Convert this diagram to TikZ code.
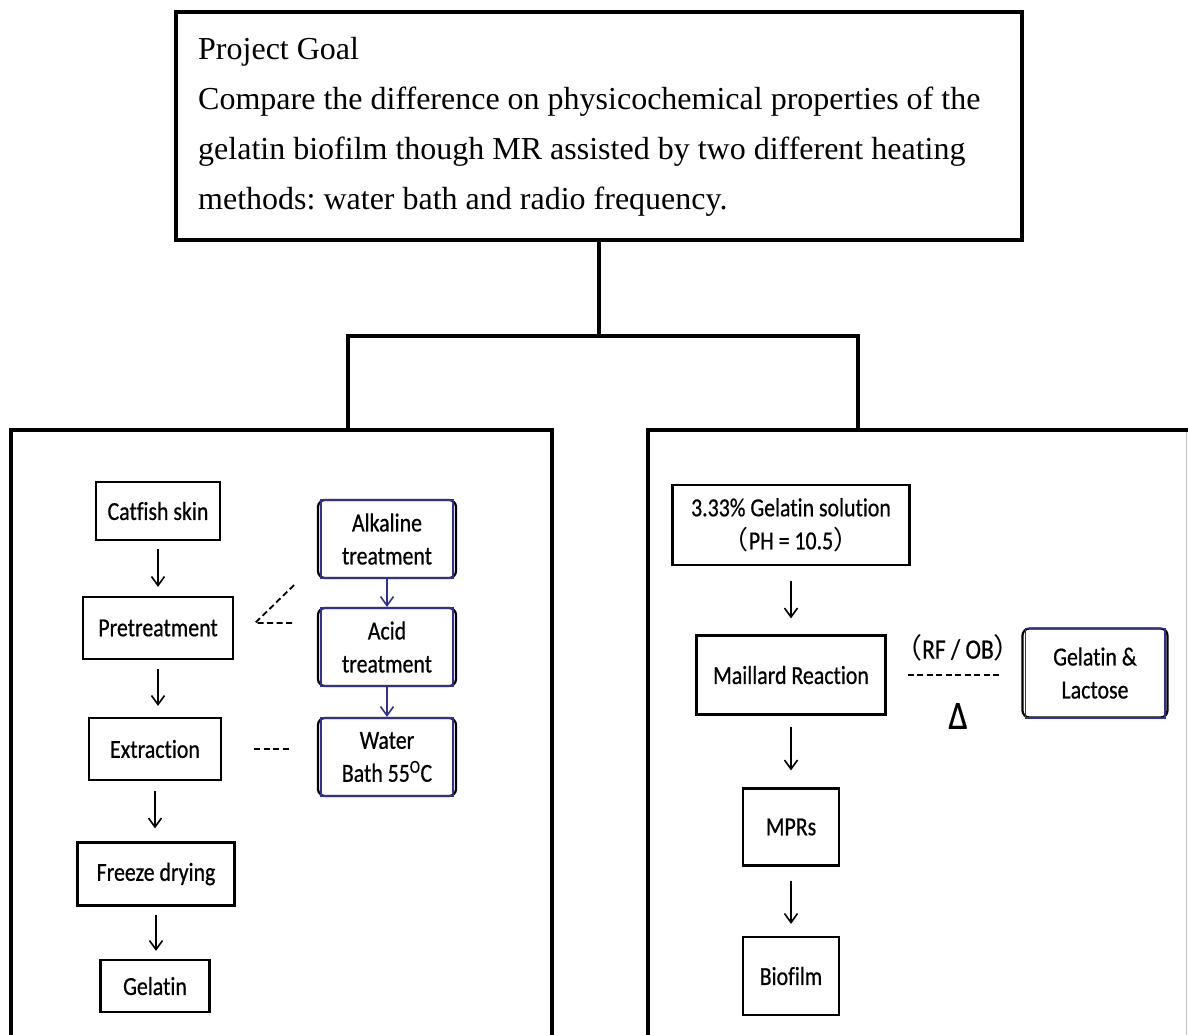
\documentclass[tikz,border=0pt]{standalone}
\usepackage{fontspec}
\setmainfont{Liberation Serif}
\newfontfamily\carlito[FakeStretch=0.84, FakeBold=0.6, Ligatures=NoCommon]{Carlito}
\newfontfamily\cjkfont{Noto Sans CJK SC}
\usetikzlibrary{arrows.meta}
\definecolor{boxblue}{RGB}{48,48,150}
\frenchspacing
\begin{document}
\begin{tikzpicture}[x=1pt, y=-1pt,
    frame/.style={line width=4pt},
    stepbox/.style={draw, line width=2.2pt, inner sep=0pt, align=center,
      font=\carlito\fontsize{26}{33}\selectfont},
    treatbox/.style={stepbox, rounded corners=7pt},
    flow/.style={line width=1.6pt, -{Straight Barb[length=9pt,width=13pt]}},
    link/.style={line width=1.8pt, dash pattern=on 6pt off 3.5pt},
    goaltext/.style={anchor=base west, inner sep=0pt, font=\fontsize{32}{50}\selectfont}]
      \useasboundingbox (0,0) rectangle (1188,1035);
      %
      \node[draw, frame, minimum width=846pt, minimum height=228pt] (goal) at (599,126) {}; % goal box
      \node[goaltext] (goalhead) at (198,60)  {Project Goal};
      \node[goaltext] (goalone)  at (198,110) {Compare the difference on physicochemical properties of the};
      \node[goaltext] (goaltwo)  at (198,160) {gelatin biofilm though MR assisted by two different heating};
      \node[goaltext] (goalthree) at (198,210) {methods: water bath and radio frequency.};
      %
      \coordinate (fork) at (602,336);        % tree
      \coordinate (lefttop) at (348,430);
      \coordinate (righttop) at (858,430);
      \draw[frame] (goal.south) -- (goal.south |- fork);
      \draw[frame] (lefttop) |- (fork) -| (righttop);
      %
      \draw[frame] (11,1045) |- (552,430) -- (552,1045);   % left panel
      \draw[frame] (648,1045) |- (1192,430);               % right panel
      \draw[gray!50, line width=0.8pt] (1186,432) -- (1186,1035);
      %
      \node[stepbox, minimum width=124pt, minimum height=58pt] (skin)    at (158,511) {Catfish skin};   % left column
      \node[stepbox, minimum width=150pt, minimum height=62pt] (pre)     at (158,628) {Pretreatment};
      \node[stepbox, minimum width=132pt, minimum height=62pt] (ext)     at (155,749) {Extraction};
      \node[stepbox, minimum width=157pt, minimum height=63pt] (freeze)  at (156,874) {Freeze drying};
      \node[stepbox, minimum width=109pt, minimum height=52pt] (gelatin) at (155,986) {Gelatin};
      %
      \node[treatbox, minimum width=138pt, minimum height=78pt] (alk)  at (387,539) {Alkaline\\treatment}; % treatments
      \node[treatbox, minimum width=138pt, minimum height=78pt] (acid) at (387,647) {Acid\\treatment};
      \node[treatbox, minimum width=138pt, minimum height=78pt] (bath) at (387,757) {Water\\Bath 55\textsuperscript{O}C};
      %
      \node[stepbox, minimum width=237pt, minimum height=80pt] (solution) at (791,525)
        {3.33\% Gelatin solution\\{\cjkfont （}PH = 10.5{\cjkfont ）}};                % right column
      \node[stepbox, minimum width=189pt, minimum height=79pt] (maillard) at (791,675) {Maillard Reaction};
      \node[stepbox, minimum width=96pt, minimum height=77pt]  (mprs)     at (791,827) {MPRs};
      \node[stepbox, minimum width=96pt, minimum height=78pt]  (biofilm)  at (791,976) {Biofilm};
      \node[treatbox, minimum width=145pt, minimum height=89pt] (lactose) at (1095,673) {Gelatin \&\\Lactose};
      %
      \foreach \n in {alk,acid,bath,lactose}   % blue inner frames
        \draw[boxblue, line width=1.8pt] ([shift={(4,1)}]\n.north west) rectangle ([shift={(-4,-1)}]\n.south east);
      %
      \draw[flow, shorten <=8pt, shorten >=9pt] (skin.south) -- (skin.south |- pre.north);
      \draw[flow, shorten <=9pt, shorten >=11pt] (pre.south) -- (pre.south |- ext.north);
      \draw[flow, shorten <=10pt, shorten >=13pt] (ext.south) -- (ext.south |- freeze.north);
      \draw[flow, shorten <=8pt, shorten >=8pt] (freeze.south) -- (freeze.south |- gelatin.north);
      \draw[flow, boxblue] (alk) -- (acid);
      \draw[flow, boxblue] (acid) -- (bath);
      %
      \draw[flow, shorten <=15pt, shorten >=16pt] (solution) -- (maillard);
      \draw[flow, shorten <=11pt, shorten >=17pt] (maillard) -- (mprs);
      \draw[flow, shorten <=14pt, shorten >=12pt] (mprs) -- (biofilm);
      %
      \draw[link] ([shift={(60,-43)}]pre.east) -- ([shift={(21,-5)}]pre.east) -- ++(39,0); % dashed links
      \draw[link] ([xshift=32]ext.east) -- ([xshift=-25]ext.east -| bath.west);
      \draw[link, shorten <=21pt, shorten >=19pt] (maillard.east) -- (maillard.east -| lactose.west);
      \node[font=\carlito\fontsize{28}{30}\selectfont] (rfob) at (958,648)
        {{\cjkfont （}RF / OB{\cjkfont ）}};
      \node[font=\carlito\fontsize{40}{40}\selectfont] (heat) at (958,716) {Δ};
      %
    \end{tikzpicture}
\end{document}
